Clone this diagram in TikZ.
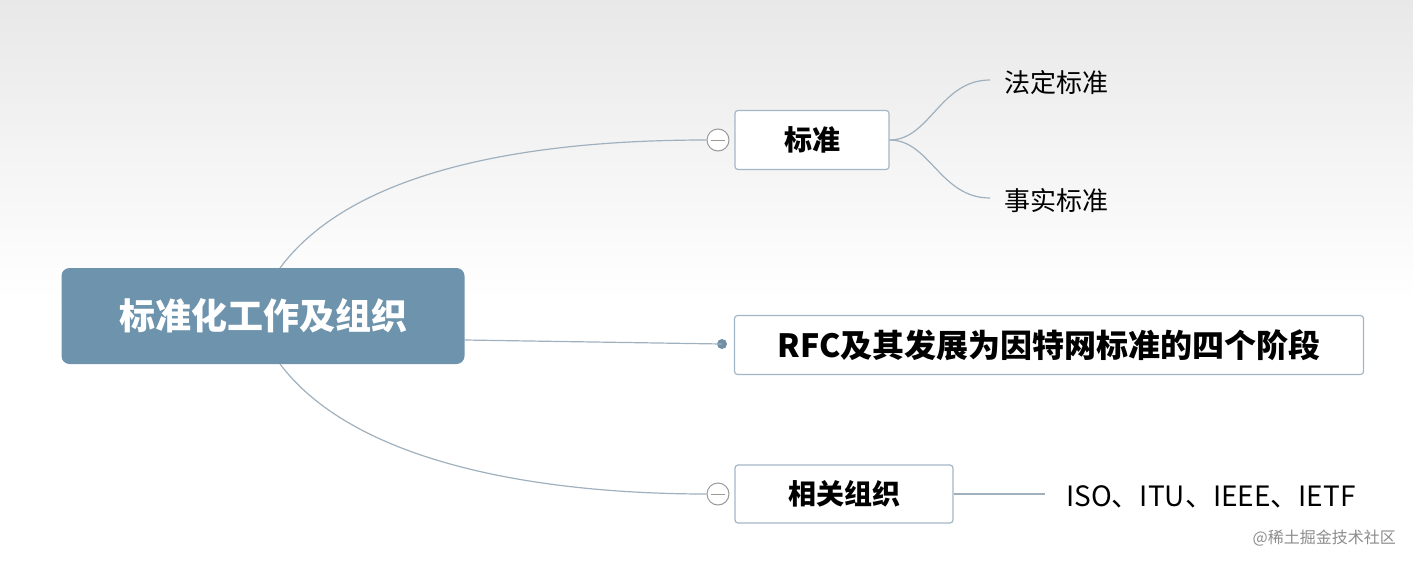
\documentclass[tikz,border=0pt]{standalone}
\usepackage{fontspec}
\setmainfont{Noto Sans CJK SC}
\usetikzlibrary{shadings}
\definecolor{rootc}{HTML}{6E93AD}
\definecolor{edge}{HTML}{A3B6C6}
\definecolor{linec}{HTML}{9FB0BE}
\begin{document}
\begin{tikzpicture}[x=1pt,y=-1pt,
  box/.style={draw=edge,line width=1.2pt,fill=white,rounded corners=3pt,font=\fontsize{28}{32}\selectfont\bfseries,inner sep=0pt},
  leaf/.style={font=\fontsize{26}{30}\selectfont,anchor=west,inner sep=0pt},
  con/.style={draw=linec,line width=1.2pt},
  tog/.style={circle,draw=gray!80,line width=1pt,fill=white,minimum size=22pt,inner sep=0pt}]
\useasboundingbox (0,0) rectangle (1413,565);
\shade[top color=black!9,bottom color=white] (0,0) rectangle (1413,300);
\node[fill=rootc,rounded corners=8pt,minimum width=403pt,minimum height=96pt,text=white,font=\fontsize{36}{40}\selectfont\bfseries,inner sep=0pt] (root) at (263,316) {标准化工作及组织};
\node[box,minimum width=154pt,minimum height=59pt] (s) at (812,140) {标准};
\node[box,minimum width=629pt,minimum height=59pt,font=\fontsize{32}{36}\selectfont\bfseries] (rfc) at (1049,345) {RFC及其发展为因特网标准的四个阶段};
\node[box,minimum width=218pt,minimum height=58pt] (o) at (844,494) {相关组织};
\node[tog] (t1) at (718,140) {};
\draw[gray!80,line width=1pt] (711,140)--(725,140);
\node[tog] (t2) at (718,494) {};
\draw[gray!80,line width=1pt] (711,494)--(725,494);
\fill[rootc!80!gray] (722,344) circle (5pt) coordinate (dot);
\node[leaf] (l1) at (1004,83) {法定标准};
\node[leaf] (l2) at (1004,201) {事实标准};
\node[leaf,font=\fontsize{28}{32}\selectfont] (l3) at (1066,497) {ISO、ITU、IEEE、IETF};
\node[font=\fontsize{16}{18}\selectfont,text=black!45,anchor=east,inner sep=0pt] (wm) at (1396,538) {@稀土掘金技术社区};
\draw[con] (280,268) .. controls (360,160) and (560,140) .. (t1.west);
\draw[con] (root.east|-0,340) -- (dot);
\draw[con] (280,364) .. controls (360,470) and (560,494) .. (t2.west);
\draw[con] (s.east) .. controls (930,140) and (940,80) .. (990,80);
\draw[con] (s.east) .. controls (930,140) and (940,198) .. (990,198);
\draw[con] (o.east) -- (1045,494);
\end{tikzpicture}
\end{document}
